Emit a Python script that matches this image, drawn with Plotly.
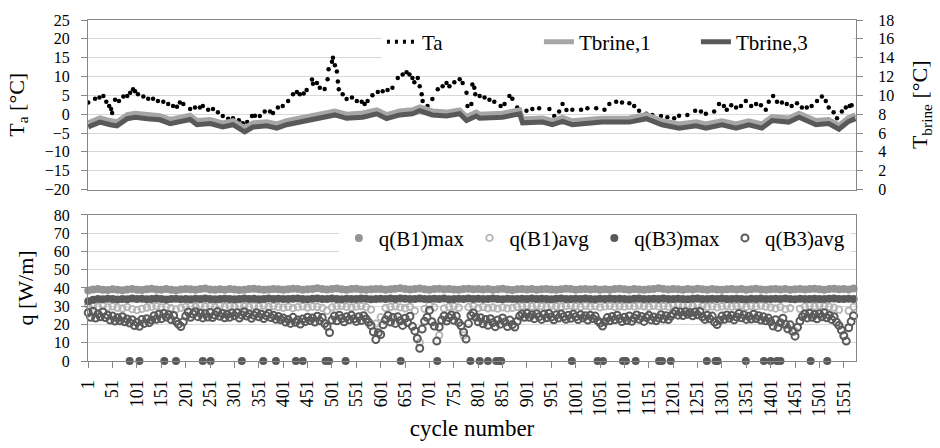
import plotly.graph_objects as go

FONT = "'Liberation Serif', 'Times New Roman', Times, serif"

# ---------------- top panel data ----------------
ta_cycles = [1, 15, 24, 32, 38, 44, 48, 50, 56, 64, 73, 81, 87, 93, 97, 103, 114, 124, 134, 144,
             155, 165, 175, 183, 189, 196, 210, 220, 230, 236, 247, 257, 267, 277, 288, 298, 310, 318,
             327, 337, 343, 353, 363, 374, 380, 390, 400, 411, 421, 429, 435, 443, 449, 460, 462, 470,
             476, 486, 492, 494, 501, 503, 507, 511, 513, 515, 523, 531, 542, 552, 562, 568, 574, 584,
             595, 605, 615, 625, 636, 646, 654, 660, 666, 670, 677, 681, 685, 687, 697, 707, 718, 728,
             736, 742, 752, 763, 769, 777, 779, 787, 789, 793, 795, 804, 814, 824, 834, 847, 855, 865,
             871, 881, 900, 912, 926, 947, 957, 967, 974, 982, 994, 1012, 1025, 1043, 1060, 1070, 1084,
             1096, 1111, 1121, 1131, 1146, 1158, 1176, 1189, 1203, 1213, 1230, 1246, 1258, 1268, 1285,
             1295, 1305, 1311, 1320, 1330, 1340, 1350, 1361, 1371, 1381, 1391, 1397, 1406, 1414, 1424,
             1434, 1444, 1455, 1465, 1475, 1485, 1496, 1506, 1514, 1520, 1530, 1537, 1547, 1555, 1563, 1567]
ta_values = [3.1, 4.1, 4.4, 4.8, 3.3, 2.2, 1.4, 0.3, 3.8, 3.5, 4.7, 4.8, 5.7, 6.6, 6.1, 5.3, 4.7, 4.1, 4.1, 3.5,
             3.3, 2.7, 2.2, 2.0, 3.1, 2.7, 1.4, 1.8, 1.8, 2.2, 1.2, 1.4, 0.5, -0.5, -1.2, -1.1, -1.6, -2.4,
             -2.1, -0.5, -0.4, -0.5, 0.7, 0.7, 0.3, 1.8, 2.2, 3.5, 5.3, 5.9, 5.3, 5.5, 6.4, 9.2, 8.1, 8.3,
             7.0, 6.7, 9.3, 11.9, 13.9, 15.0, 13.0, 11.3, 8.7, 6.6, 5.3, 4.0, 4.4, 3.5, 3.3, 2.7, 3.5, 5.0,
             5.9, 6.1, 6.4, 7.0, 9.6, 10.5, 11.1, 10.5, 9.6, 8.5, 9.6, 7.4, 5.3, 3.5, 2.2, 4.0, 6.6, 7.4,
             8.3, 7.4, 8.5, 9.3, 8.3, 5.7, 2.2, 2.7, 7.9, 7.0, 5.3, 4.8, 4.4, 3.8, 3.3, 2.2, 2.7, 4.8,
             4.1, 1.8, 0.9, 1.4, 1.6, 1.4, -0.5, 0.7, 2.7, 1.1, 1.2, 1.2, 1.6, 1.6, 1.2, 2.7, 3.3,
             3.1, 2.9, 2.2, 0.9, 0.1, -0.2, -0.5, -0.8, -1.1, -0.4, -0.2, 0.9, 0.7, 0.1, 0.7,
             2.7, 2.2, 1.2, 2.4, 1.8, 2.2, 3.5, 2.2, 2.7, 2.4, 1.2, 3.3, 4.8, 3.3, 3.1,
             2.7, 2.2, 2.9, 1.8, 1.8, 2.2, 3.5, 4.7, 3.5, 1.8, 0.5, -1.1, 0.7, 1.8, 2.2, 2.4]

tb_cycles = [1, 25, 46, 60, 81, 97, 122, 148, 169, 189, 210, 224, 251, 277, 298, 322, 339, 367, 388, 408,
             449, 490, 507, 531, 564, 593, 613, 640, 666, 681, 707, 736, 763, 777, 797, 804, 851, 886, 892, 933,
             953, 974, 994, 1055, 1111, 1146, 1178, 1213, 1248, 1268, 1301, 1330, 1356, 1383, 1404, 1438, 1459,
             1494, 1520, 1541, 1561, 1575]
tbrine1 = [7.08, 7.60, 7.32, 7.20, 7.96, 8.10, 7.96, 7.84, 7.44, 7.68, 7.88, 7.32, 7.44, 7.08, 7.30, 6.56,
           7.08, 7.20, 6.96, 7.30, 7.74, 8.10, 8.34, 8.00, 8.12, 8.46, 7.96, 8.34, 8.46, 8.76, 8.34, 8.22,
           8.46, 7.74, 8.22, 8.00, 8.10, 8.46, 7.50, 7.60, 7.32, 7.66, 7.30, 7.58, 7.60, 7.96, 7.32, 6.96,
           7.20, 6.96, 7.30, 6.96, 7.30, 6.96, 7.74, 7.60, 8.10, 7.32, 7.44, 6.84, 7.66, 7.94]
tbrine3 = [6.64, 7.16, 6.88, 6.76, 7.52, 7.68, 7.52, 7.40, 7.00, 7.24, 7.44, 6.88, 7.00, 6.64, 6.88, 6.12,
           6.64, 6.76, 6.52, 6.88, 7.32, 7.68, 7.92, 7.56, 7.68, 8.04, 7.52, 7.92, 8.04, 8.36, 7.92, 7.80,
           8.04, 7.32, 7.80, 7.56, 7.68, 8.04, 7.08, 7.16, 6.88, 7.24, 6.88, 7.16, 7.16, 7.52, 6.88, 6.52,
           6.76, 6.52, 6.88, 6.52, 6.88, 6.52, 7.32, 7.16, 7.68, 6.88, 7.00, 6.40, 7.24, 7.52]

# ---------------- bottom panel data ----------------
q10_cycles = list(range(1, 1572, 10))   # cycles sampled every 10
q5_cycles = list(range(1, 1572, 5))     # cycles sampled every 5

q_b1_max = [38.6, 39.2, 39.4, 39.1, 38.9, 39.3, 39.0, 38.8, 39.2, 39.5,
            39.1, 38.9, 39.3, 39.6, 39.2, 39.0, 39.4, 39.1, 38.8, 39.2,
            39.5, 39.3, 39.0, 39.4, 39.7, 39.2, 39.0, 39.3, 39.1, 39.4,
            39.2, 38.9, 39.1, 39.4, 39.6, 39.3, 39.0, 39.2, 39.5, 39.3,
            39.0, 39.3, 39.6, 39.4, 39.1, 39.3, 39.5, 39.8, 39.4, 39.2,
            39.5, 39.7, 39.3, 39.1, 39.4, 39.6, 39.2, 39.0, 39.3, 39.5,
            39.4, 39.1, 39.3, 39.6, 39.8, 39.4, 39.2, 39.5, 39.7, 39.3,
            39.1, 39.4, 39.6, 39.3, 39.5, 39.2, 39.0, 39.4, 39.6, 39.3,
            39.5, 39.2, 39.4, 39.1, 39.3, 39.6, 39.2, 38.9, 39.3, 39.5,
            39.2, 39.4, 39.1, 39.3, 39.5, 39.2, 39.0, 39.3, 39.6, 39.4,
            39.1, 39.3, 39.5, 39.2, 39.4, 39.0, 39.3, 39.1, 39.4, 39.6,
            39.3, 39.1, 39.4, 39.2, 39.0, 39.3, 39.5, 39.8, 39.4, 39.2,
            39.5, 39.3, 39.1, 39.4, 39.2, 39.6, 39.3, 39.1, 39.4, 39.2,
            39.0, 39.3, 39.5, 39.2, 39.4, 39.1, 39.3, 39.6, 39.2, 39.0,
            39.3, 39.5, 39.2, 39.4, 39.1, 39.3, 39.5, 39.2, 39.4, 39.6,
            39.3, 39.1, 39.4, 39.6, 39.3, 39.5, 39.2, 39.7]

q_b1_avg = [30.6, 30.1, 29.7, 30.3, 29.4, 29.9, 29.2, 28.8, 29.5, 28.4,
            27.9, 28.6, 29.3, 29.8, 30.0, 29.4, 29.7, 28.9, 28.3, 29.1,
            29.6, 30.2, 29.8, 30.4, 29.9, 30.1, 29.5, 30.3, 29.7, 30.0,
            29.8, 30.3, 30.0, 29.6, 30.2, 29.9, 30.4, 29.7, 30.1, 29.5,
            29.2, 29.7, 29.0, 29.5, 29.9, 29.3, 29.8, 29.6, 29.1, 27.5,
            29.4, 29.9, 30.2, 29.7, 29.3, 29.8, 30.1, 29.5, 28.2, 20.5,
            24.0, 29.1, 29.6, 30.0, 29.4, 28.9, 29.7, 27.5, 10.2, 28.6,
            30.5, 29.4, 14.1, 28.8, 29.6, 30.0, 29.2, 14.0, 29.5, 30.1,
            29.0, 29.6, 28.9, 29.3, 28.7, 29.4, 28.8, 29.1, 29.7, 30.2,
            30.3, 29.9, 30.5, 30.1, 29.8, 30.4, 30.0, 29.7, 30.2, 30.4,
            30.0, 29.6, 30.3, 29.8, 30.1, 29.4, 29.9, 30.2, 29.7, 30.0,
            29.8, 30.2, 29.9, 30.4, 30.0, 29.7, 30.3, 29.9, 30.1, 29.8,
            30.5, 30.8, 30.3, 30.6, 30.2, 30.7, 30.1, 29.6, 29.9, 29.4,
            29.9, 30.3, 29.8, 30.1, 30.4, 29.7, 30.2, 29.9, 30.3, 29.8,
            29.3, 28.8, 29.5, 28.4, 29.0, 16.3, 28.6, 29.8, 30.3, 30.0,
            30.4, 30.1, 29.7, 29.2, 28.1, 14.1, 27.5, 29.6]

q_b3_max = [32.8, 33.6, 34.0, 33.8, 34.1, 33.9, 33.7, 34.0, 33.8, 34.2,
            33.9, 34.1, 33.8, 34.0, 34.2, 33.9, 33.7, 34.0, 34.1, 33.8,
            34.0, 33.8, 34.1, 33.9, 34.2, 34.0, 33.8, 33.9, 34.1, 34.0,
            33.8, 34.0, 34.2, 33.9, 34.1, 33.8, 34.0, 34.2, 33.9, 34.1,
            34.0, 33.9, 34.1, 34.3, 34.0, 33.8, 34.1, 34.2, 33.9, 34.0,
            34.2, 34.0, 33.8, 34.1, 34.0, 33.9, 34.2, 34.1, 33.8, 34.0,
            34.1, 33.9, 34.2, 34.0, 34.3, 34.1, 33.9, 34.0, 34.2, 34.0,
            33.9, 34.1, 34.0, 34.2, 33.8, 34.0, 34.1, 33.9, 34.2, 34.0,
            34.1, 33.9, 34.0, 34.2, 34.0, 33.8, 34.1, 34.0, 33.9, 34.1,
            34.0, 34.2, 33.9, 34.1, 34.0, 33.8, 34.1, 34.2, 33.9, 34.0,
            34.1, 33.9, 34.2, 34.0, 33.8, 34.1, 34.0, 34.2, 33.9, 34.1,
            34.0, 33.8, 34.1, 34.2, 33.9, 34.0, 34.1, 33.9, 34.2, 34.0,
            33.9, 34.1, 34.0, 33.8, 34.1, 34.2, 34.0, 33.9, 34.1, 34.0,
            34.2, 34.0, 33.9, 34.1, 34.0, 33.8, 34.1, 34.0, 34.2, 33.9,
            34.0, 34.1, 33.9, 34.2, 34.0, 33.8, 34.1, 34.0, 33.9, 34.1,
            34.0, 33.9, 34.1, 34.2, 34.0, 33.9, 34.1, 34.0]

# cycles with zero heat extraction (circulation off)
q_zero_cycles = [86, 106, 157, 181, 236, 252, 316, 360, 386, 427, 441, 488, 495, 529, 642, 717, 785,
                 804, 821, 838, 845, 848, 993, 1046, 1057, 1098, 1104, 1124, 1172, 1178, 1196, 1270,
                 1288, 1292, 1350, 1387, 1401, 1414, 1421, 1483, 1517]

q_b3_avg = [26.5, 24.0, 27.2, 23.5, 25.8, 24.2, 26.9, 23.8, 25.1, 22.4, 24.6, 21.9, 23.7, 22.0, 24.3, 21.5, 23.0, 20.8, 22.6, 19.4,
            21.2, 19.0, 22.8, 20.6, 23.1, 21.0, 22.4, 24.8, 22.9, 25.6, 23.2, 26.0, 24.1, 25.3, 22.7, 24.9, 21.8, 20.2, 18.9, 21.5,
            24.6, 26.8, 23.9, 25.7, 27.0, 24.3, 26.2, 23.6, 25.9, 24.1, 26.6, 23.8, 25.2, 27.1, 24.5, 26.0, 23.7, 25.5, 24.0, 26.3,
            24.8, 26.5, 23.5, 25.2, 27.0, 24.6, 25.8, 23.4, 25.0, 26.4, 24.2, 25.6, 23.3, 24.9, 26.1, 23.8, 25.0, 22.9, 24.4, 22.6,
            23.5, 21.4, 22.8, 20.6, 23.9, 21.2, 22.5, 20.3, 23.0, 21.6, 24.0, 22.1, 23.6, 21.4, 24.5, 22.0, 23.8, 20.5, 19.0, 15.6,
            22.4, 24.6, 22.0, 25.1, 23.3, 21.5, 24.2, 22.6, 25.0, 23.1, 21.7, 24.3, 22.2, 24.8, 23.0, 21.2, 19.5, 16.0, 11.8, 15.5,
            14.5, 19.8, 22.6, 24.9, 21.3, 23.8, 20.6, 24.2, 22.0, 19.5, 23.4, 21.1, 24.5, 19.0, 16.5, 12.3, 7.0, 17.5, 21.8, 24.0,
            27.8, 21.5, 19.2, 10.9, 18.6, 22.4, 24.7, 21.9, 23.8, 25.2, 22.3, 24.6, 21.0, 19.3, 15.8, 12.0, 20.5, 24.9, 26.3, 24.0,
            21.5, 23.7, 20.4, 22.8, 19.6, 23.2, 21.0, 18.8, 22.5, 20.2, 23.6, 21.3, 18.9, 22.4, 20.0, 18.6, 21.8, 24.6, 25.8, 23.9,
            26.1, 24.0, 25.4, 23.2, 25.9, 24.3, 22.8, 25.6, 23.7, 26.0, 24.1, 22.6, 25.3, 23.5, 25.8, 24.2, 22.9, 25.1, 23.4, 25.7,
            24.2, 22.7, 25.3, 23.6, 24.8, 22.4, 25.0, 23.3, 24.6, 22.1, 20.8, 19.2, 21.5, 23.8, 22.0, 24.4, 22.6, 25.1, 23.2, 21.6,
            23.9, 22.2, 24.7, 21.8, 23.5, 25.2, 22.9, 24.4, 21.7, 23.8, 25.0, 22.5, 24.1, 22.0, 23.6, 25.4, 23.0, 24.8, 22.7, 24.5,
            25.9, 27.2, 25.1, 26.8, 24.9, 27.0, 25.6, 26.4, 24.8, 26.9, 25.3, 27.1, 24.2, 22.8, 25.0, 23.1, 24.6, 21.4, 20.0, 22.3,
            24.6, 22.9, 25.2, 23.4, 24.9, 22.5, 24.1, 26.0, 23.7, 25.3, 22.8, 24.5, 23.0, 25.6, 23.3, 24.8, 22.4, 24.2, 22.0, 23.5,
            21.5, 19.2, 22.6, 18.4, 21.0, 23.4, 20.1, 17.6, 19.8, 16.3, 13.6, 18.5, 21.9, 24.3, 25.8, 23.6, 26.2, 24.0, 25.5, 23.1,
            25.9, 24.2, 26.4, 23.7, 25.1, 22.8, 24.3, 21.2, 19.5, 17.0, 13.8, 10.9, 18.2, 21.6, 24.8]

x_tick_vals = list(range(1, 1552, 50))

# ---------------- figure ----------------
fig = go.Figure()

# top panel
fig.add_trace(go.Scatter(x=ta_cycles, y=ta_values, mode="markers", name="Ta",
                         marker=dict(color="black", size=4.5), showlegend=False,
                         xaxis="x2", yaxis="y2"))
fig.add_trace(go.Scatter(x=[None], y=[None], mode="lines", name="Ta",
                         line=dict(color="black", width=4, dash="3px,5px"),
                         xaxis="x2", yaxis="y2", legend="legend"))
fig.add_trace(go.Scatter(x=tb_cycles, y=tbrine1, mode="lines", name="Tbrine,1",
                         line=dict(color="#a6a6a6", width=5),
                         xaxis="x2", yaxis="y3", legend="legend"))
fig.add_trace(go.Scatter(x=tb_cycles, y=tbrine3, mode="lines", name="Tbrine,3",
                         line=dict(color="#595959", width=5),
                         xaxis="x2", yaxis="y3", legend="legend"))

# bottom panel
fig.add_trace(go.Scatter(x=q10_cycles, y=q_b1_max, mode="markers", name="q(B1)max",
                         marker=dict(color="#949494", size=8), cliponaxis=False,
                         xaxis="x", yaxis="y", legend="legend2"))
fig.add_trace(go.Scatter(x=q10_cycles, y=q_b1_avg, mode="markers", name="q(B1)avg",
                         marker=dict(color="#b5b5b5", size=6.5, symbol="circle-open",
                                     line=dict(width=1.8, color="#b5b5b5")),
                         cliponaxis=False, xaxis="x", yaxis="y", legend="legend2"))
fig.add_trace(go.Scatter(x=q10_cycles + q_zero_cycles,
                         y=q_b3_max + [0] * len(q_zero_cycles),
                         mode="markers", name="q(B3)max",
                         marker=dict(color="#595959", size=8), cliponaxis=False,
                         xaxis="x", yaxis="y", legend="legend2"))
fig.add_trace(go.Scatter(x=q5_cycles, y=q_b3_avg, mode="markers", name="q(B3)avg",
                         marker=dict(color="#5a5a5a", size=7, symbol="circle-open",
                                     line=dict(width=2, color="#5a5a5a")),
                         cliponaxis=False, xaxis="x", yaxis="y", legend="legend2"))

AX = "#868686"
GRID = "#d9d9d9"
TICKF = dict(family=FONT, size=16, color="black")
XTICKF = dict(family=FONT, size=18, color="black")
TITLEF = dict(family=FONT, size=22, color="black")

fig.update_layout(
    width=940, height=448,
    margin=dict(l=88, r=82, t=19, b=81),
    paper_bgcolor="white", plot_bgcolor="white",
    font=dict(family=FONT, color="black"),
    xaxis=dict(domain=[0, 1], anchor="y", range=[0.5, 1576],
               tickmode="array", tickvals=x_tick_vals, ticktext=[str(v) for v in x_tick_vals],
               tickangle=-90, ticks="outside", ticklen=6, tickcolor=AX,
               showline=True, mirror=True, linecolor=AX, showgrid=False, zeroline=False,
               tickfont=XTICKF, ticklabelstandoff=5,
               title=dict(text="cycle number", font=dict(family=FONT, size=23, color="black"),
                          standoff=4)),
    yaxis=dict(domain=[0, 0.4282], anchor="x", range=[0, 80], dtick=10,
               ticks="outside", ticklen=6, tickcolor=AX,
               showline=True, mirror=True, linecolor=AX, gridcolor=GRID, zeroline=False,
               tickfont=TICKF, ticklabelstandoff=8,
               title=dict(text="q [W/m]", font=TITLEF, standoff=14)),
    xaxis2=dict(domain=[0, 1], anchor="y2", range=[0.5, 1576], showticklabels=False,
                ticks="", showline=True, mirror=True, linecolor=AX, showgrid=False,
                zeroline=False),
    yaxis2=dict(domain=[0.5029, 1], anchor="x2", range=[-20, 25], dtick=5,
                ticks="outside", ticklen=6, tickcolor=AX,
                showline=True, mirror=True, linecolor=AX, gridcolor=GRID, zeroline=False,
                tickfont=TICKF, ticklabelstandoff=8,
                title=dict(text="T<sub>a</sub> [°C]", font=TITLEF, standoff=14)),
    yaxis3=dict(overlaying="y2", side="right", anchor="x2", range=[0, 18], dtick=2,
                ticks="outside", ticklen=6, tickcolor=AX,
                showline=True, linecolor=AX, showgrid=False, zeroline=False,
                tickfont=TICKF, ticklabelstandoff=12,
                title=dict(text="T<sub>brine</sub> [°C]", font=TITLEF, standoff=18)),
    legend=dict(orientation="h", x=0.996, xanchor="right", y=0.995, yanchor="top",
                bgcolor="white", entrywidth=112,
                font=dict(family=FONT, size=21, color="black")),
    legend2=dict(orientation="h", x=0.992, xanchor="right", y=0.36, yanchor="middle",
                 bgcolor="white", font=dict(family=FONT, size=21, color="black")),
)

fig.write_html("out.html")
